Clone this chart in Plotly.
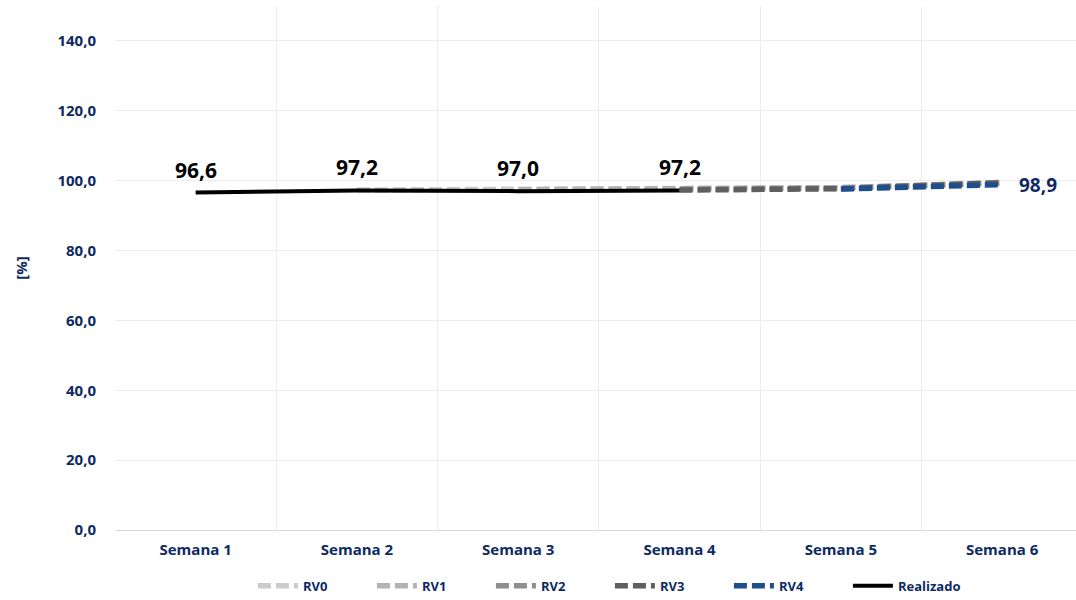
import plotly.graph_objects as go

categories = ["Semana 1", "Semana 2", "Semana 3", "Semana 4", "Semana 5", "Semana 6"]
rv0 = [None, 97.3, 97.5, 97.7, 98.0, 99.3]
rv1 = [None, None, 97.4, 97.7, 98.0, 99.4]
rv2 = [None, None, None, 97.5, 97.8, 99.5]
rv3 = [None, None, None, 97.3, 97.7, 99.4]
rv4 = [None, None, None, None, 97.6, 98.9]
realizado = [96.6, 97.2, 97.0, 97.2, None, None]
y_ticks = [0, 20, 40, 60, 80, 100, 120, 140]

navy = "#0E2A62"
x = list(range(len(categories)))

def fmt(v):
    return f"{v:.1f}".replace(".", ",")

fig = go.Figure()
series = [
    ("RV0", rv0, "#CBCBCB"),
    ("RV1", rv1, "#B3B3B3"),
    ("RV2", rv2, "#8E8E8E"),
    ("RV3", rv3, "#5F5F5F"),
    ("RV4", rv4, "#1F4E8C"),
]
for name, vals, col in series:
    fig.add_trace(go.Scatter(x=x, y=vals, name=name, mode="lines",
                             line=dict(color=col, width=5.5, dash="13px,5px")))

fig.add_trace(go.Scatter(x=x, y=realizado, name="Realizado", mode="lines",
                         line=dict(color="#000000", width=4)))

for xi, v in zip(x, realizado):
    if v is not None:
        fig.add_annotation(x=xi, y=v, text=fmt(v), showarrow=False, yshift=23,
                           font=dict(family="Open Sans", size=21, color="#000000", weight="bold"))

fig.add_annotation(x=5, y=rv4[5], text=fmt(rv4[5]), showarrow=False, xanchor="left",
                   xshift=15, yshift=0,
                   font=dict(family="Open Sans", size=19, color=navy, weight="bold"))

fig.update_layout(
    width=1076, height=600,
    margin=dict(l=115, r=0, t=6, b=70, autoexpand=False),
    plot_bgcolor="white", paper_bgcolor="white",
    showlegend=True,
    legend=dict(orientation="h", x=0.515, xanchor="center", y=-0.078, yanchor="top",
                font=dict(family="Open Sans", size=13, color=navy, weight="bold"),
                entrywidth=64, itemwidth=40),
    xaxis=dict(range=[-0.5, 5.458], tickvals=x, ticktext=categories,
               showgrid=False, zeroline=False, automargin=False,
               showline=True, linecolor="#D9D9D9", linewidth=1,
               tickfont=dict(family="Open Sans", size=15, color=navy, weight="bold"),
               ticklabelstandoff=6,
               minor=dict(tickvals=[i - 0.5 for i in range(7)], showgrid=True,
                          gridcolor="#EDEDED", gridwidth=1, ticks="")),
    yaxis=dict(range=[0, 150], tickvals=y_ticks, automargin=False,
               ticktext=[fmt(v) for v in y_ticks],
               showgrid=True, gridcolor="#EDEDED", zeroline=False,
               tickfont=dict(family="Open Sans", size=15, color=navy, weight="bold"),
               ticklabelstandoff=18,
               title=dict(text="[%]", standoff=26,
                          font=dict(family="Open Sans", size=15, color=navy, weight="bold"))),
)

fig.write_html("out.html", config={"displayModeBar": False},
               post_script="document.body.style.margin='0px';")
